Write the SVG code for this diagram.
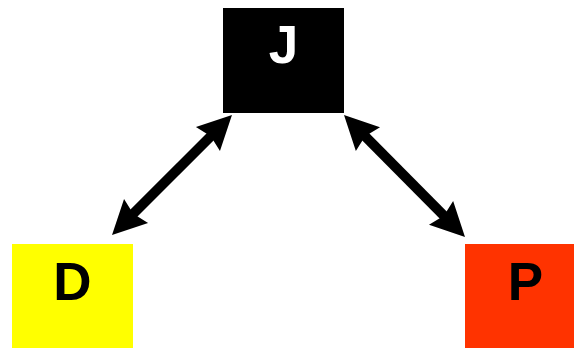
<svg xmlns="http://www.w3.org/2000/svg" width="574" height="348" viewBox="0 0 574 348">
<style>
.lbl{font-family:"Liberation Sans",Arial,sans-serif;font-weight:bold;font-size:53px;text-anchor:middle}
.conn{stroke:#000;stroke-width:10;fill:none}
</style>
<defs>
<marker id="ah" markerUnits="userSpaceOnUse" markerWidth="60" markerHeight="60" refX="0" refY="0" orient="auto-start-reverse" overflow="visible">
<path d="M25,0 L-9,-17 L-5,0 L-9,17 Z" fill="#000"/>
</marker>
</defs>
<rect width="574" height="348" fill="#fff"/>
<g id="connectors">
<line class="conn" x1="214.3" y1="132.7" x2="129.7" y2="217.3" marker-start="url(#ah)" marker-end="url(#ah)"/>
<line class="conn" x1="361.6" y1="132.7" x2="447.4" y2="219.3" marker-start="url(#ah)" marker-end="url(#ah)"/>
</g>
<g id="J">
<rect x="223" y="8" width="121" height="105" fill="#000"/>
<text class="lbl" x="283.5" y="63" fill="#fff">J</text>
</g>
<g id="D">
<rect x="12" y="244" width="121" height="104" fill="#ffff00"/>
<text class="lbl" x="72.5" y="300" fill="#000">D</text>
</g>
<g id="P">
<rect x="465" y="244" width="121" height="104" fill="#ff3300"/>
<text class="lbl" x="525.5" y="300" fill="#000">P</text>
</g>
</svg>
